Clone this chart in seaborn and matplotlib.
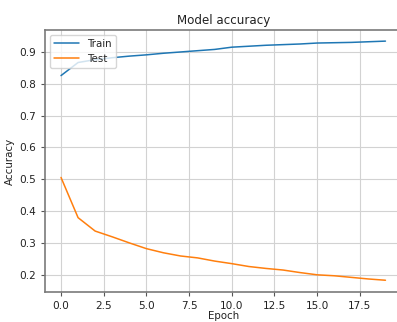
import numpy as np
import pandas as pd
import matplotlib
matplotlib.use("Agg")
import matplotlib.pyplot as plt
import seaborn as sns

# Training history
epochs = list(range(20))
train_acc = [0.825, 0.866, 0.875, 0.881, 0.886, 0.890, 0.895, 0.899, 0.903, 0.907,
             0.914, 0.917, 0.920, 0.922, 0.924, 0.927, 0.928, 0.929, 0.931, 0.933]
test_acc = [0.506, 0.380, 0.338, 0.320, 0.301, 0.283, 0.270, 0.260, 0.254, 0.244,
            0.236, 0.227, 0.221, 0.216, 0.208, 0.201, 0.198, 0.193, 0.188, 0.184]
series_names = ["Train", "Test"]
colors = ["#1f77b4", "#ff7f0e"]

sns.set_style("whitegrid", rc={
    "axes.edgecolor": "#7a7a7a",
    "axes.linewidth": 1.0,
    "grid.color": "#d2d2d2",
    "grid.linewidth": 1.0,
    "xtick.bottom": True,
    "ytick.left": True,
    "xtick.color": "#555555",
    "ytick.color": "#555555",
})
plt.rcParams["font.family"] = ["DejaVu Sans"]

fig = plt.figure(figsize=(3.97, 3.22), dpi=100)
ax = fig.add_axes([0.1128, 0.092, 0.899, 0.816])

for name, vals, col in zip(series_names, [train_acc, test_acc], colors):
    df = pd.DataFrame({"Epoch": epochs, "Accuracy": vals})
    sns.lineplot(data=df, x="Epoch", y="Accuracy", color=col, linewidth=1.1,
                 label=name, ax=ax)

ax.set_title("Model accuracy", fontsize=8.6, color="#222222", pad=4)
ax.set_xlabel("Epoch", fontsize=7.4, color="#222222", labelpad=0)
ax.set_ylabel("Accuracy", fontsize=7.4, color="#222222", labelpad=3)
ax.tick_params(axis="both", labelsize=7.6, length=3, width=0.8, pad=3,
               labelcolor="#222222")
ax.set_xticks([0, 2.5, 5, 7.5, 10, 12.5, 15, 17.5])
ax.set_yticks([0.2, 0.3, 0.4, 0.5, 0.6, 0.7, 0.8, 0.9])
ax.set_xlim(-0.95, 19.95)
ax.set_ylim(0.146, 0.969)
for side in ["top", "left", "bottom", "right"]:
    ax.spines[side].set_visible(True)
    ax.spines[side].set_color("#7a7a7a")
    ax.spines[side].set_linewidth(1.2)
    ax.spines[side].set_zorder(5)

ax.legend(loc="upper left", fontsize=7.4, frameon=True, framealpha=0.8,
          edgecolor="#cccccc", borderpad=0.4, handlelength=2.4)

fig.savefig("out.png", dpi=100)
